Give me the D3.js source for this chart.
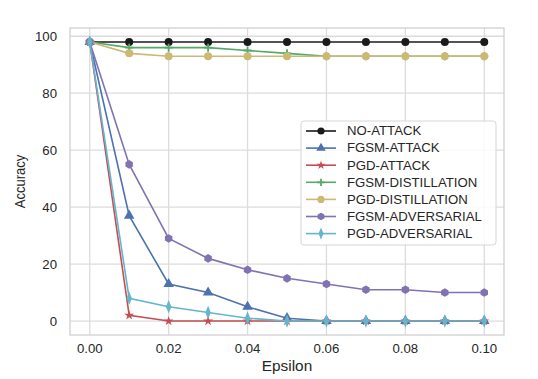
<!DOCTYPE html>
<html>
<head>
<meta charset="utf-8">
<script src="https://cdn.jsdelivr.net/npm/d3@7"></script>
<style>
  body { margin: 0; background: #fff; }
  text { font-family: "Liberation Sans", Arial, sans-serif; fill: #262626; }
</style>
</head>
<body>
<main></main>
<script>
// data
const epsilons = [0, 0.01, 0.02, 0.03, 0.04, 0.05, 0.06, 0.07, 0.08, 0.09, 0.10];
const noAttack = [98, 98, 98, 98, 98, 98, 98, 98, 98, 98, 98];
const fgsmAttack = [98, 37, 13, 10, 5, 1, 0, 0, 0, 0, 0];
const pgdAttack = [98, 2, 0, 0, 0, 0, 0, 0, 0, 0, 0];
const fgsmDistillation = [98, 96, 96, 96, 95, 94, 93, 93, 93, 93, 93];
const pgdDistillation = [98, 94, 93, 93, 93, 93, 93, 93, 93, 93, 93];
const fgsmAdversarial = [98, 55, 29, 22, 18, 15, 13, 11, 11, 10, 10];
const pgdAdversarial = [98, 8, 5, 3, 1, 0, 0, 0, 0, 0, 0];
const xTicks = [0, 0.02, 0.04, 0.06, 0.08, 0.10];
const yTicks = [0, 20, 40, 60, 80, 100];

const series = [
  {name: "NO-ATTACK", values: noAttack, color: "#1a1a1a", marker: "circle"},
  {name: "FGSM-ATTACK", values: fgsmAttack, color: "#4C72B0", marker: "triangle"},
  {name: "PGD-ATTACK", values: pgdAttack, color: "#C44E52", marker: "star"},
  {name: "FGSM-DISTILLATION", values: fgsmDistillation, color: "#55A868", marker: "plus"},
  {name: "PGD-DISTILLATION", values: pgdDistillation, color: "#CCB974", marker: "circle"},
  {name: "FGSM-ADVERSARIAL", values: fgsmAdversarial, color: "#8172B2", marker: "hex"},
  {name: "PGD-ADVERSARIAL", values: pgdAdversarial, color: "#64B5CD", marker: "diamond"}
];

const w = 538, h = 379;
const margin = {left: 70, right: 34, top: 28, bottom: 44};
const sx = 1.1; // the figure text is a little wider than tall

const svg = d3.select("main").append("svg").attr("width", w).attr("height", h);

const x = d3.scaleLinear().domain([-0.005, 0.105]).range([margin.left, w - margin.right]);
const y = d3.scaleLinear().domain([-4.9, 102.9]).range([h - margin.bottom, margin.top]);

function label(g, tx, ty, txt, size, anchor) {
  return g.append("text")
    .attr("transform", `translate(${tx},${ty}) scale(${sx},1)`)
    .attr("text-anchor", anchor || "start")
    .attr("font-size", size)
    .text(txt);
}

//grid
svg.append("g").selectAll("line").data(xTicks).enter().append("line")
  .attr("x1", d => x(d)).attr("x2", d => x(d))
  .attr("y1", margin.top).attr("y2", h - margin.bottom)
  .attr("stroke", "#dcdcdc").attr("stroke-width", 1.3);
svg.append("g").selectAll("line").data(yTicks).enter().append("line")
  .attr("y1", d => y(d)).attr("y2", d => y(d))
  .attr("x1", margin.left).attr("x2", w - margin.right)
  .attr("stroke", "#dcdcdc").attr("stroke-width", 1.3);

//frame
svg.append("rect")
  .attr("x", margin.left).attr("y", margin.top)
  .attr("width", w - margin.left - margin.right)
  .attr("height", h - margin.top - margin.bottom)
  .attr("fill", "none").attr("stroke", "#d0d0d0").attr("stroke-width", 1.3);

//tick labels
const tg = svg.append("g");
xTicks.forEach(d => label(tg, x(d), h - margin.bottom + 18, d3.format(".2f")(d), 12, "middle"));
yTicks.forEach(d => label(tg, margin.left - 13, y(d) + 4.5, d, 12, "end"));

//axis titles
label(svg, (margin.left + w - margin.right) / 2, h - 8, "Epsilon", 14, "middle");
svg.append("text").attr("transform", "translate(25," + (margin.top + h - margin.bottom) / 2 + ") rotate(-90) scale(1,1.08)")
  .attr("text-anchor", "middle").attr("font-size", 13).text("Accuracy");

//marker shapes
function drawMarker(g, m, color, cx, cy, k) {
  k = k || 1;
  if (m === "circle") {
    g.append("circle").attr("cx", cx).attr("cy", cy).attr("r", 4 * k).attr("fill", color);
  } else if (m === "plus") {
    const r = 4 * k;
    g.append("path").attr("d", `M${cx - r},${cy}H${cx + r}M${cx},${cy - r}V${cy + r}`)
      .attr("stroke", color).attr("stroke-width", 1.8);
  } else if (m === "hex") {
    const pts = d3.range(6).map(i => {
      const a = Math.PI / 3 * i + Math.PI / 6;
      return [cx + 4.3 * k * Math.cos(a), cy + 4.3 * k * Math.sin(a)];
    });
    g.append("path").attr("d", "M" + pts.join("L") + "Z").attr("fill", color);
  } else {
    const types = {triangle: [d3.symbolTriangle, 48], star: [d3.symbolStar, 30], diamond: [d3.symbolDiamond, 36]};
    g.append("path").attr("d", d3.symbol().type(types[m][0]).size(types[m][1] * k * k)())
      .attr("transform", `translate(${cx},${cy})` + (m === "diamond" ? " scale(0.85,1.2)" : ""))
      .attr("fill", color);
  }
}

//lines
const line = d3.line().x((d, i) => x(epsilons[i])).y(d => y(d));
series.forEach(s => {
  const g = svg.append("g");
  g.append("path").datum(s.values).attr("d", line)
    .attr("fill", "none").attr("stroke", s.color).attr("stroke-width", 1.6);
  s.values.forEach((v, i) => drawMarker(g, s.marker, s.color, x(epsilons[i]), y(v)));
});

//legend
const lg = svg.append("g").attr("transform", "translate(301,121)");
lg.append("rect").attr("width", 195).attr("height", 124).attr("rx", 3)
  .attr("fill", "rgba(255,255,255,0.85)").attr("stroke", "#d6d6d6");
series.forEach((s, i) => {
  const yy = 10 + i * 17.1;
  const g = lg.append("g");
  g.append("line").attr("x1", 5).attr("x2", 35).attr("y1", yy).attr("y2", yy)
    .attr("stroke", s.color).attr("stroke-width", 1.6);
  drawMarker(g, s.marker, s.color, 20, yy, 0.9);
  label(g, 46, yy + 4.3, s.name, 12);
});
</script>
</body>
</html>
